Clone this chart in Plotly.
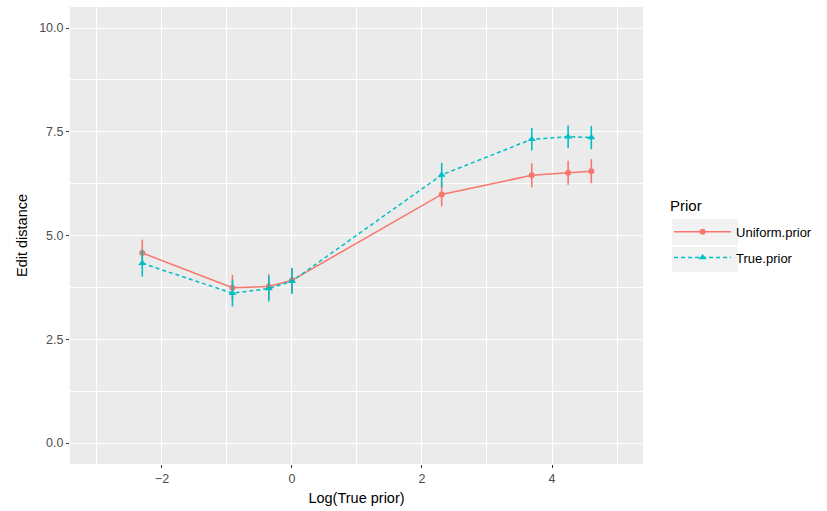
import plotly.graph_objects as go

log_prior = [-2.303, -0.916, -0.357, 0.0, 2.303, 3.689, 4.248, 4.605]
uniform_mean = [4.58, 3.74, 3.77, 3.92, 5.99, 6.45, 6.51, 6.55]
uniform_err = [0.32, 0.31, 0.30, 0.30, 0.29, 0.29, 0.29, 0.29]
true_mean = [4.33, 3.61, 3.72, 3.90, 6.46, 7.32, 7.38, 7.36]
true_err = [0.32, 0.32, 0.31, 0.31, 0.29, 0.27, 0.27, 0.28]

RED = "#F8766D"
CYAN = "#00BFC4"
FONT = "Liberation Sans, Arial, sans-serif"

fig = go.Figure()
fig.add_trace(go.Scatter(
    x=log_prior, y=uniform_mean, name="Uniform.prior", mode="lines+markers",
    legendgroup="u",
    line=dict(color=RED, width=1.5),
    marker=dict(symbol="circle", size=6, color=RED),
    error_y=dict(type="data", array=uniform_err, color=RED, thickness=1.6, width=0),
))
fig.add_trace(go.Scatter(
    x=log_prior, y=true_mean, name="True.prior", mode="lines+markers",
    legendgroup="t",
    line=dict(color=CYAN, width=1.5, dash="4px,3px"),
    marker=dict(symbol="triangle-up", size=7, color=CYAN),
    error_y=dict(type="data", array=true_err, color=CYAN, thickness=1.6, width=0),
))

axis_common = dict(
    showline=False, zeroline=False, ticks="outside", ticklen=3, tickcolor="#333333",
    tickfont=dict(family=FONT, size=12.5, color="#4D4D4D"),
    gridcolor="white", gridwidth=1.2,
)
fig.update_xaxes(
    range=[-3.415, 5.4], tickvals=[-2, 0, 2, 4], ticktext=["\u22122", "0", "2", "4"],
    minor=dict(dtick=1, tick0=-3, showgrid=True, gridcolor="white", gridwidth=0.5, ticks=""),
    title=dict(text="Log(True prior)", font=dict(family=FONT, size=14.5, color="black"), standoff=7),
    **axis_common,
)
fig.update_yaxes(
    range=[-0.506, 10.506], tickvals=[0, 2.5, 5, 7.5, 10], ticktext=["0.0", "2.5", "5.0", "7.5", "10.0"],
    minor=dict(dtick=1.25, tick0=0, showgrid=True, gridcolor="white", gridwidth=0.5, ticks=""),
    title=dict(text="Edit distance", font=dict(family=FONT, size=14.5, color="black"), standoff=8),
    **axis_common,
)

# legend key backgrounds (ggplot style)
for y0, y1 in [(0.4792, 0.5361), (0.4201, 0.4748)]:
    fig.add_shape(type="rect", xref="paper", yref="paper", x0=1.0506, x1=1.1658,
                  y0=y0, y1=y1, fillcolor="#F2F2F2", line=dict(width=0), layer="below")

fig.add_annotation(text="Prior", xref="paper", yref="paper", x=1.0436, y=0.5667,
                   xanchor="left", yanchor="middle", showarrow=False,
                   font=dict(family=FONT, size=15, color="black"))

fig.update_layout(
    width=827, height=511,
    margin=dict(l=70, r=184, t=7, b=47),
    plot_bgcolor="#EBEBEB", paper_bgcolor="white",
    font=dict(family=FONT),
    legend=dict(
        font=dict(family=FONT, size=13, color="black"),
        x=1.0455, xanchor="left", y=0.5411, yanchor="top",
        bgcolor="rgba(0,0,0,0)", tracegroupgap=6, itemwidth=57,
    ),
    showlegend=True,
)

fig.write_html("out.html", config={"displayModeBar": False},
               post_script="document.body.style.margin='0';")
